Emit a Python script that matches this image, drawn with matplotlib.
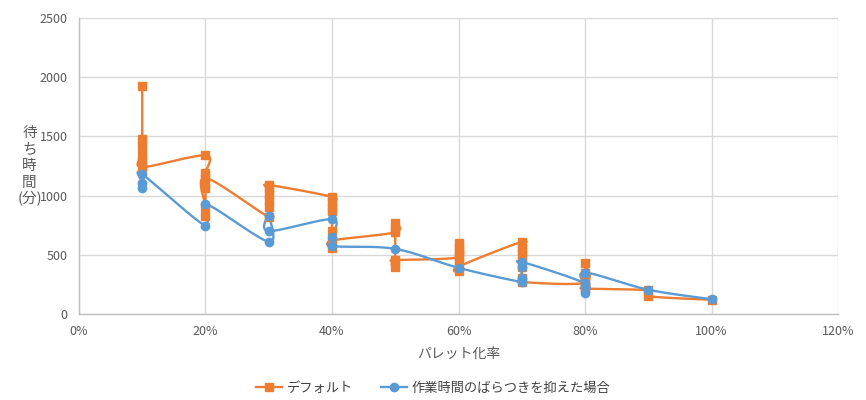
import matplotlib.pyplot as plt
import numpy as np
from matplotlib.lines import Line2D

plt.rcParams['font.family'] = ['Noto Sans CJK JP', 'DejaVu Sans']

# パレット化率ごとの待ち時間(分)、記録順
default_rate = [0.1] * 6 + [0.2] * 7 + [0.3] * 6 + [0.4] * 7 + [0.5] * 6 + \
    [0.6] * 7 + [0.7] * 7 + [0.8] * 6 + [0.9] * 2 + [1.0]
default_wait = [1925, 1480, 1420, 1290, 1340, 1240,
                1340, 1190, 1100, 1060, 830, 900, 1150,
                820, 900, 960, 1010, 1060, 1090,
                990, 950, 870, 900, 700, 560, 620,
                690, 770, 720, 400, 440, 455,
                480, 600, 560, 520, 450, 360, 400,
                610, 560, 520, 470, 400, 300, 270,
                265, 430, 350, 280, 230, 215,
                200, 150,
                120]

reduced_rate = [0.1] * 3 + [0.2] * 2 + [0.3] * 3 + [0.4] * 3 + [0.5] + \
    [0.6] + [0.7] * 4 + [0.8] * 4 + [0.9] + [1.0]
reduced_wait = [1060, 1110, 1180,
                745, 930,
                610, 830, 700,
                800, 650, 575,
                550,
                390,
                270, 300, 400, 440,
                260, 180, 230, 350,
                205,
                125]

x_ticks = [0, 0.2, 0.4, 0.6, 0.8, 1.0, 1.2]
x_ticklabels = ['0%', '20%', '40%', '60%', '80%', '100%', '120%']
y_ticks = [0, 500, 1000, 1500, 2000, 2500]
y_label_rows = ['待', 'ち', '時', '間', '(分)']

ORANGE = '#ED7D31'
BLUE = '#5B9BD5'
GREY = '#595959'


def smooth(xs, ys, sx, sy, n=30):
    # 滑らかな線 (Catmull-Rom をベジェで)、画面上の縮尺で計算
    p = np.column_stack([np.asarray(xs) * sx, np.asarray(ys) * sy])
    pts = [p[0]]
    for i in range(len(p) - 1):
        p0 = p[i - 1] if i > 0 else p[i]
        p1, p2 = p[i], p[i + 1]
        p3 = p[i + 2] if i + 2 < len(p) else p[i + 1]
        c1 = p1 + (p2 - p0) / 6
        c2 = p2 - (p3 - p1) / 6
        t = np.linspace(0, 1, n)[1:, None]
        seg = ((1 - t) ** 3 * p1 + 3 * (1 - t) ** 2 * t * c1
               + 3 * (1 - t) * t ** 2 * c2 + t ** 3 * p2)
        pts.extend(seg)
    pts = np.array(pts)
    return pts[:, 0] / sx, pts[:, 1] / sy


fig = plt.figure(figsize=(8.66, 4), dpi=100)
ax = fig.add_axes([0.0912, 0.215, 0.8765, 0.74])

# 軸の幅・高さ (px) に合わせた縮尺
sx = 759 / 1.2
sy = 296 / 2500

for xs, ys, color, marker in [(default_rate, default_wait, ORANGE, 's'),
                              (reduced_rate, reduced_wait, BLUE, 'o')]:
    lx, ly = smooth(xs, ys, sx, sy)
    ax.plot(lx, ly, color=color, linewidth=1.7, zorder=3)
    ax.plot(xs, ys, linestyle='none', marker=marker, markersize=6,
            color=color, zorder=4)

ax.set_xlim(0, 1.2)
ax.set_ylim(0, 2500)
ax.set_xticks(x_ticks)
ax.set_xticklabels(x_ticklabels)
ax.set_yticks(y_ticks)
ax.grid(True, color='#D9D9D9', linewidth=1)
ax.set_axisbelow(True)
for side in ['top', 'right']:
    ax.spines[side].set_visible(False)
for side in ['left', 'bottom']:
    ax.spines[side].set_color('#BFBFBF')
    ax.spines[side].set_linewidth(1)
ax.tick_params(length=0, colors=GREY, labelsize=9, pad=8)

ax.set_xlabel('パレット化率', color=GREY, fontsize=10, labelpad=6)

# 縦書きの軸ラベル (一行ずつ)
for i, s in enumerate(y_label_rows):
    fig.text(0.034, 1 - (133 + 16.5 * i) / 400, s, color=GREY,
             fontsize=10.5, ha='center', va='center')

handles = [Line2D([], [], color=ORANGE, marker='s', markersize=6, linewidth=1.7),
           Line2D([], [], color=BLUE, marker='o', markersize=6, linewidth=1.7)]
fig.legend(handles, ['デフォルト', '作業時間のばらつきを抑えた場合'],
           loc='center', bbox_to_anchor=(0.5, 0.03), ncol=2, frameon=False,
           fontsize=9.5, handlelength=2.0, handletextpad=0.35,
           columnspacing=2.1, labelcolor='#404040')

fig.savefig('out.png', dpi=100)
